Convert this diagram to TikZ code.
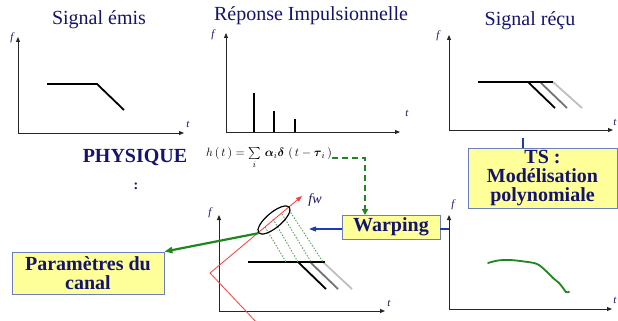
\documentclass[tikz,border=0pt]{standalone}
\usepackage{amsmath}
\usepackage{fontspec}
\setmainfont{Liberation Serif}
\usetikzlibrary{arrows.meta,shapes.geometric}
\definecolor{navy}{RGB}{20,20,110}
\definecolor{boxfill}{RGB}{255,255,153}
\definecolor{boxedge}{RGB}{110,125,190}
\definecolor{grn}{RGB}{30,135,30}
\definecolor{blu}{RGB}{30,60,170}
\definecolor{redl}{RGB}{255,60,60}
\begin{document}
\begin{tikzpicture}[x=1pt,y=-1pt,
  axisl/.style={draw=black!85, line width=0.9pt, {Triangle[length=5pt,width=4pt]}-{Triangle[length=5pt,width=4pt]}},
  sig/.style={line width=1.8pt},
  lbl/.style={text=navy, font=\fontsize{11}{11}\selectfont\itshape, inner sep=0},
  title/.style={text=navy, font=\fontsize{20}{22}\selectfont, inner sep=0},
  box/.style={draw=boxedge, fill=boxfill, line width=0.8pt, text=navy, font=\fontsize{20}{19}\selectfont\bfseries, align=center, inner sep=0},
  dotg/.style={draw=grn!80, line width=0.8pt, dash pattern=on 1.5pt off 1.5pt},
]
\useasboundingbox (0,0) rectangle (618,321);
\fill[white] (0,0) rectangle (618,321);

% titles
\node[title] (t1) at (99,20) {Signal émis};
\node[title] (t2) at (311,16) {Réponse Impulsionnelle};
\node[title] (t3) at (530,21) {Signal réçu};

% panel 1
\coordinate (o1) at (18,133); \coordinate (y1) at (18,37); \coordinate (x1) at (184,133);
\draw[axisl] (y1) -- (o1) -- (x1);
\node[lbl] (f1) at (12,38) {f};
\node[lbl] (tt1) at (188,124) {t};
\draw[sig] (47,84) -- (97,84) -- (124,110);

% panel 2
\coordinate (o2) at (226,132); \coordinate (y2) at (226,33); \coordinate (x2) at (400,132);
\draw[axisl] (y2) -- (o2) -- (x2);
\node[lbl] (f2) at (213,35) {f};
\node[lbl] (tt2) at (407,113) {t};
\draw[sig] (254,132) -- (254,93);
\draw[sig] (274,132) -- (274,111);
\draw[sig] (295,132) -- (295,119);

% panel 3
\coordinate (o3) at (449,130); \coordinate (y3) at (449,35); \coordinate (x3) at (613,130);
\draw[axisl] (y3) -- (o3) -- (x3);
\node[lbl] (f3) at (438,36) {f};
\node[lbl] (tt3) at (615,122) {t};
\draw[sig, black!25] (553,82) -- (582,108);
\draw[sig, black!55] (540,82) -- (567,108);
\draw[sig] (478,82) -- (553,82);
\draw[sig] (528,82) -- (555,108);

% physique + formula
\node[text=navy, font=\fontsize{20}{22}\selectfont\bfseries, inner sep=0] (phy) at (135,157) {PHYSIQUE};
\node[text=navy, font=\fontsize{14}{14}\selectfont\bfseries, inner sep=0] (colon) at (136,186) {:};
\node[inner sep=0, font=\fontsize{13}{15}\selectfont] (form) at (269,158)
  {$h\,(\,t\,) = \sum\limits_{i}\, \boldsymbol{\alpha}_{i}\boldsymbol{\delta}\,\,(\,t - \boldsymbol{\tau}_{i}\,)$};

% boxes
\node[box, minimum width=149pt, minimum height=60pt] (ts) at (542.5,178) {TS :\\Modélisation\\polynomiale};
\node[box, minimum width=98pt, minimum height=24pt] (warp) at (391,227) {Warping};
\node[box, font=\fontsize{20}{19.5}\selectfont\bfseries, minimum width=152pt, minimum height=42pt] (par) at (88,273) {Paramètres du\\canal};

% panel 4
\coordinate (o4) at (449,309); \coordinate (y4) at (449,215); \coordinate (x4) at (612,309);
\draw[axisl] (y4) -- (o4) -- (x4);
\node[lbl] (f4) at (453,205) {f};
\node[lbl] (tt4) at (615,300) {t};
\draw[grn, line width=1.8pt, line cap=round] plot[smooth, tension=0.6] coordinates
  {(488,263) (498,260.5) (510,260) (524,261.5) (537,264) (546,271) (553,278) (559,283) (563,288) (566,292) (569,292)};

% panel 5
\coordinate (o5) at (219,311); \coordinate (y5) at (219,215); \coordinate (x5) at (385,311);
\draw[axisl] (y5) -- (o5) -- (x5);
\node[lbl] (f5) at (210,213) {f};
\node[lbl] (tt5) at (389,303) {t};
\draw[sig, black!25] (323,262) -- (352,289);
\draw[sig, black!55] (310,262) -- (338,289);
\draw[sig] (248,262) -- (325,262);
\draw[sig] (298,262) -- (326,289);

% warped frequency axis
\coordinate (fv) at (210,273);
\coordinate (fwtip) at (302,196);
\coordinate (fwend) at (258,324);
\draw[redl, line width=0.8pt, -{Triangle[length=6pt,width=4.5pt]}] (fv) -- (fwtip);
\draw[redl, line width=0.8pt] (fv) -- (fwend);
\node[text=navy, font=\fontsize{14}{14}\selectfont\itshape, inner sep=0] (fw) at (315,200) {fw};

% projections
\draw[dotg] (265,227) -- (286,262);
\draw[dotg] (273,219) -- (298,262);
\draw[dotg] (282,214) -- (311,262);
\draw[dotg] (289,210) -- (323,262);

% ellipse
\node[draw=black, line width=1.2pt, ellipse, minimum width=40pt, minimum height=15pt, inner sep=0, rotate=40] (ell) at (274,220) {};

% connectors
\draw[grn, line width=2.2pt, -{Triangle[length=8pt,width=6pt]}] (ell.west) -- (par.north east);
\coordinate (wtop) at (365,215);
\draw[grn, line width=1.6pt, dash pattern=on 6pt off 4pt, -{Triangle[length=6pt,width=6pt]}] (form.east) -| (wtop);
\coordinate (warr) at (309,229);
\draw[blu, line width=1.2pt, -{Triangle[length=7pt,width=5pt]}] (warp.west |- warr) -- (warr);
\draw[blu, line width=1.2pt] (warp.east |- warr) -- (y4 |- warr);
\coordinate (tstop) at (523,138);
\draw[blu, line width=1.2pt] (tstop) -- (tstop |- ts.north);
\end{tikzpicture}
\end{document}
